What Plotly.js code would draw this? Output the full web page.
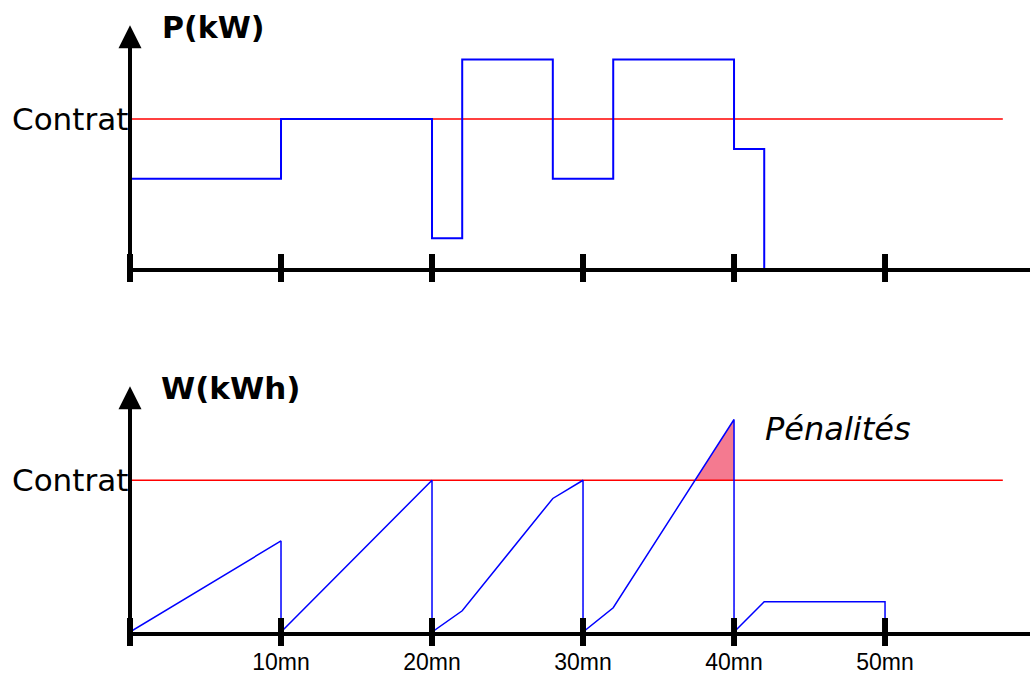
<!DOCTYPE html>
<html>
<head>
<meta charset="utf-8">
<script src="https://cdn.plot.ly/plotly-3.0.1.min.js"></script>
<style>
html, body { margin: 0; padding: 0; background: #ffffff; }
#chart { width: 1030px; height: 676px; }
</style>
</head>
<body>
<div id="chart"></div>
<script>
// ---- data ----
const minutesP = [0, 10, 20, 22, 28, 32, 40, 42];
const powerP = [3, 5, 1, 7, 3, 7, 4, 0];
const minutesW = [0, 10, 10, 20, 20, 22, 28, 30, 30, 32, 40, 40, 42, 50, 50];
const energyW = [0, 3, 0, 5, 0, 0.7, 4.4, 5, 0, 0.8, 7, 0, 1, 1, 0];
const contractP = 5;
const contractW = 5;
const contractSpan = [0, 57.8];
const tickMinutes = [0, 10, 20, 30, 40, 50];
const labelMinutes = [10, 20, 30, 40, 50];
const labelTexts = ['10mn', '20mn', '30mn', '40mn', '50mn'];
const labelP = 'P(kW)';
const labelW = 'W(kWh)';
const labelContract = 'Contrat';
const labelPenalty = 'Pénalités';

// penalty polygon: where the energy ramp crosses the contract level
let penX = [], penY = [];
for (let i = 0; i < minutesW.length - 1; i++) {
  const y0 = energyW[i], y1 = energyW[i + 1];
  if (y0 < contractW && y1 > contractW) {
    const x0 = minutesW[i], x1 = minutesW[i + 1];
    const xc = x0 + (contractW - y0) / (y1 - y0) * (x1 - x0);
    penX = [xc, x1, x1, xc];
    penY = [contractW, y1, contractW, contractW];
  }
}

const blue = '#0000ff';
const red = '#ff0000';
const fontMain = 'DejaVu Sans, Liberation Sans, Arial, sans-serif';

const traces = [
  // top panel
  { x: contractSpan, y: [contractP, contractP], xaxis: 'x', yaxis: 'y', mode: 'lines',
    line: { color: red, width: 1.5 }, hoverinfo: 'skip' },
  { x: minutesP, y: powerP, xaxis: 'x', yaxis: 'y', mode: 'lines',
    line: { color: blue, width: 2, shape: 'hv' }, hoverinfo: 'skip' },
  { x: tickMinutes, y: tickMinutes.map(() => 0), xaxis: 'x', yaxis: 'y', mode: 'markers',
    marker: { symbol: 'line-ns', size: 20, color: '#000', line: { color: '#000', width: 6 } },
    cliponaxis: false, hoverinfo: 'skip' },
  // bottom panel
  { x: penX, y: penY, xaxis: 'x2', yaxis: 'y2', mode: 'lines', fill: 'toself',
    fillcolor: '#f47a90', line: { width: 0, color: 'rgba(0,0,0,0)' }, hoverinfo: 'skip' },
  { x: contractSpan, y: [contractW, contractW], xaxis: 'x2', yaxis: 'y2', mode: 'lines',
    line: { color: red, width: 1.5 }, hoverinfo: 'skip' },
  { x: minutesW, y: energyW, xaxis: 'x2', yaxis: 'y2', mode: 'lines',
    line: { color: blue, width: 1.5 }, hoverinfo: 'skip' },
  { x: tickMinutes, y: tickMinutes.map(() => 0), xaxis: 'x2', yaxis: 'y2', mode: 'markers',
    marker: { symbol: 'line-ns', size: 20, color: '#000', line: { color: '#000', width: 6 } },
    cliponaxis: false, hoverinfo: 'skip' }
];

const xCommon = {
  range: [0, 59.6], domain: [130 / 1030, 1], showgrid: false, zeroline: false,
  showline: true, linecolor: '#000', linewidth: 4, ticks: '', fixedrange: true
};
const yCommon = {
  showgrid: false, zeroline: false, showline: false, showticklabels: false, ticks: '', fixedrange: true
};

const layout = {
  width: 1030, height: 676,
  margin: { l: 0, r: 0, t: 0, b: 0 },
  paper_bgcolor: '#ffffff', plot_bgcolor: '#ffffff',
  showlegend: false,
  xaxis: Object.assign({}, xCommon, { anchor: 'y', showticklabels: false }),
  yaxis: Object.assign({}, yCommon, { range: [0, 9], domain: [(676 - 268) / 676, 1], anchor: 'x' }),
  xaxis2: Object.assign({}, xCommon, {
    anchor: 'y2', showticklabels: true, tickmode: 'array', tickvals: labelMinutes, ticktext: labelTexts,
    ticklabelstandoff: 6,
    tickfont: { family: 'Liberation Sans, Arial, sans-serif', size: 23, color: '#000' }
  }),
  yaxis2: Object.assign({}, yCommon, { range: [0, 8.5], domain: [(676 - 632) / 676, (676 - 374) / 676], anchor: 'x2' }),
  annotations: [
    // axis arrows
    { xref: 'x', yref: 'y', axref: 'x', ayref: 'y', x: 0, y: 8.15, ax: 0, ay: 0, text: '',
      showarrow: true, arrowhead: 2, arrowsize: 1.15, arrowwidth: 4, arrowcolor: '#000', standoff: 0 },
    { xref: 'x2', yref: 'y2', axref: 'x2', ayref: 'y2', x: 0, y: 8.1, ax: 0, ay: 0, text: '',
      showarrow: true, arrowhead: 2, arrowsize: 1.15, arrowwidth: 4, arrowcolor: '#000', standoff: 0 },
    // axis titles
    { xref: 'x', yref: 'y', x: 2.0, y: 8.09, xanchor: 'left', yanchor: 'middle', showarrow: false,
      text: '<b>' + labelP + '</b>', font: { family: fontMain, size: 30, color: '#000' } },
    { xref: 'x2', yref: 'y2', x: 1.9, y: 8.03, xanchor: 'left', yanchor: 'middle', showarrow: false,
      text: '<b>' + labelW + '</b>', font: { family: fontMain, size: 31, color: '#000' } },
    // contract labels
    { xref: 'x', yref: 'y', x: 0, y: contractP, xanchor: 'right', yanchor: 'middle', showarrow: false,
      text: labelContract, font: { family: fontMain, size: 31, color: '#000' } },
    { xref: 'x2', yref: 'y2', x: 0, y: contractW, xanchor: 'right', yanchor: 'middle', showarrow: false,
      text: labelContract, font: { family: fontMain, size: 31, color: '#000' } },
    // penalty label
    { xref: 'x2', yref: 'y2', x: 41.9, y: 6.7, xanchor: 'left', yanchor: 'middle', showarrow: false,
      text: '<i>' + labelPenalty + '</i>', font: { family: fontMain, size: 32, color: '#000' } }
  ]
};

Plotly.newPlot('chart', traces, layout, { displayModeBar: false, staticPlot: true });
</script>
</body>
</html>
